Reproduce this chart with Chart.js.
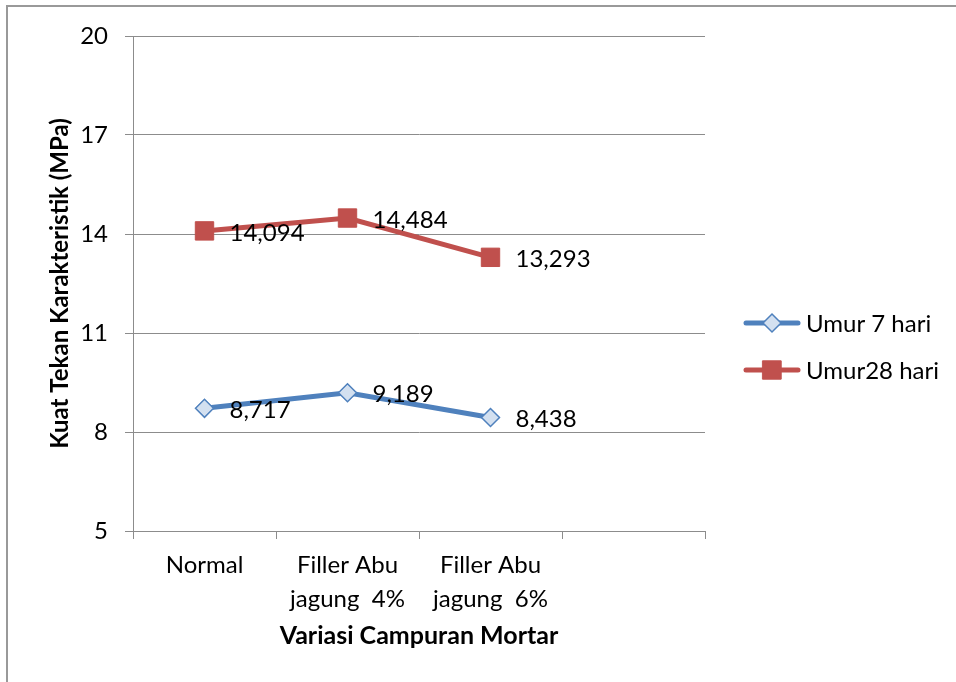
<!DOCTYPE html>
<html>
<head>
<meta charset="utf-8">
<script src="https://cdn.jsdelivr.net/npm/chart.js@4.4.0/dist/chart.umd.min.js"></script>
<style>
    html, body { margin: 0; padding: 0; background: #fff; }
    #wrap { position: relative; width: 956px; height: 682px; }
    #frame { position: absolute; left: 6px; top: 5px; right: -4px; bottom: -4px; border: 2px solid #999; }
    canvas { position: absolute; left: 0; top: 0; }
</style>
</head>
<body>
<div id="wrap">
    <div id="frame"></div>
    <canvas id="chart" width="956" height="682"></canvas>
</div>
<script>
// data
const categories = ['Normal', ['Filler Abu', 'jagung  4%'], ['Filler Abu', 'jagung  6%'], ''];
const umur7 = [8.717, 9.189, 8.438, null];
const umur28 = [14.094, 14.484, 13.293, null];
const seriesNames = ['Umur 7 hari', 'Umur28 hari'];
const yMin = 5, yMax = 20, yStep = 3;

const FONT = 'Lato, "Open Sans", sans-serif';
const BLUE = '#4f81bd';
const RED = '#c0504d';
const GRID = '#8c8c8c';

// value labels right of each point, decimal comma
const valueLabels = {
    id: 'valueLabels',
    afterDatasetsDraw(chart) {
        const ctx = chart.ctx;
        ctx.save();
        ctx.font = '24px ' + FONT;
        ctx.fillStyle = '#000';
        ctx.textAlign = 'left';
        ctx.textBaseline = 'middle';
        chart.data.datasets.forEach((ds, i) => {
            chart.getDatasetMeta(i).data.forEach((pt, j) => {
                const v = ds.data[j];
                if (v == null) return;
                ctx.fillText(v.toFixed(3).replace('.', ','), pt.x + 25, pt.y + 2);
            });
        });
        ctx.restore();
    }
};

// legend on the right: line + marker + name
const sideLegend = {
    id: 'sideLegend',
    afterDraw(chart) {
        const ctx = chart.ctx;
        const rows = [323, 370];
        ctx.save();
        chart.data.datasets.forEach((ds, i) => {
            const y = rows[i];
            ctx.strokeStyle = ds.borderColor;
            ctx.lineWidth = ds.borderWidth;
            ctx.lineCap = 'round';
            ctx.beginPath();
            ctx.moveTo(746, y);
            ctx.lineTo(798, y);
            ctx.stroke();
            ctx.fillStyle = ds.pointBackgroundColor;
            ctx.strokeStyle = ds.pointBorderColor;
            ctx.lineWidth = ds.pointBorderWidth;
            Chart.helpers.drawPoint(ctx, { pointStyle: ds.pointStyle, radius: ds.pointRadius, borderWidth: ds.pointBorderWidth }, 772, y);
            ctx.fillStyle = '#000';
            ctx.font = '24px ' + FONT;
            ctx.textBaseline = 'middle';
            ctx.fillText(ds.label, 806, y + 1);
        });
        ctx.restore();
    }
};

new Chart(document.getElementById('chart'), {
    type: 'line',
    data: {
        labels: categories,
        datasets: [
            {
                label: seriesNames[0],
                data: umur7,
                borderColor: BLUE,
                borderWidth: 5,
                pointStyle: 'rectRot',
                pointRadius: 9,
                pointBackgroundColor: '#d3e0f0',
                pointBorderColor: BLUE,
                pointBorderWidth: 1.5,
                tension: 0
            },
            {
                label: seriesNames[1],
                data: umur28,
                borderColor: RED,
                borderWidth: 5,
                pointStyle: 'rect',
                pointRadius: 13,
                pointBackgroundColor: RED,
                pointBorderColor: RED,
                pointBorderWidth: 1,
                tension: 0
            }
        ]
    },
    options: {
        responsive: false,
        animation: false,
        layout: { padding: { left: 0, top: 36, right: 251, bottom: 0 } },
        plugins: {
            legend: { display: false },
            tooltip: { enabled: false }
        },
        scales: {
            x: {
                offset: true,
                grid: { display: true, drawOnChartArea: false, drawTicks: true, offset: true, tickLength: 8, color: GRID },
                border: { color: GRID, width: 1 },
                ticks: {
                    color: '#000',
                    font: { family: FONT, size: 24, lineHeight: 1.42 },
                    padding: 9,
                    maxRotation: 0,
                    autoSkip: false
                },
                title: {
                    display: true,
                    text: 'Variasi Campuran Mortar',
                    color: '#000',
                    font: { family: FONT, size: 25, weight: 'bold', lineHeight: 1.2 },
                    padding: { top: 0, bottom: 31 }
                },
                afterFit: s => { s.height = 151; }
            },
            y: {
                min: yMin,
                max: yMax,
                grid: { color: GRID, tickLength: 8 },
                border: { color: GRID, width: 1 },
                ticks: {
                    stepSize: yStep,
                    color: '#000',
                    font: { family: FONT, size: 24 },
                    padding: 17
                },
                title: {
                    display: true,
                    text: 'Kuat Tekan Karakteristik (MPa)',
                    color: '#000',
                    font: { family: FONT, size: 24, weight: 'bold', lineHeight: 1.2 },
                    padding: { top: 46, bottom: 0 }
                },
                afterFit: s => { s.width = 133; }
            }
        }
    },
    plugins: [valueLabels, sideLegend]
});
</script>
</body>
</html>
